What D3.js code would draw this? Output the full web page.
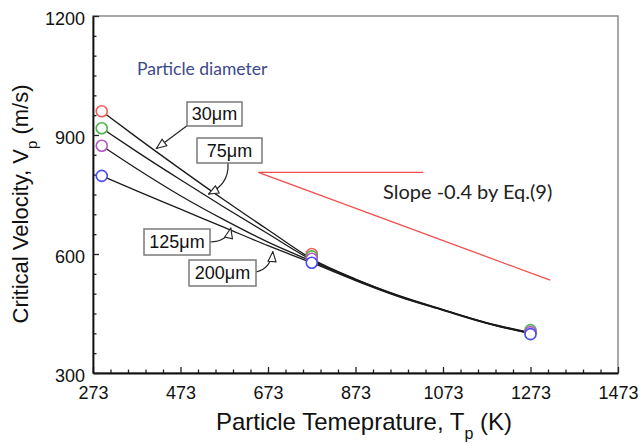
<!DOCTYPE html>
<html>
<head>
<meta charset="utf-8">
<script src="https://cdn.jsdelivr.net/npm/d3@7"></script>
<style>
  body { margin: 0; background: #fff; }
  svg { display: block; }
  .axis text { font-family: "Liberation Sans", Arial, sans-serif; font-size: 18px; fill: #111; }
  .axis .domain { stroke: #111; stroke-width: 1.8; }
  .axis line { stroke: #222; stroke-width: 1.3; }
</style>
</head>
<body>
<script>
// chart data
var temps = [293, 373, 473, 573, 673, 773, 873, 973, 1073, 1173, 1273];
var v30  = [960, 894, 814, 736, 661, 588, 537, 495, 460, 427, 402];
var v75  = [917, 858, 787, 718, 651, 585, 536, 494, 459, 426, 401];
var v125 = [873, 815, 747, 686, 630, 582, 535, 493, 459, 426, 400];
var v200 = [797, 759, 713, 667, 621, 578, 533, 492, 458, 425, 399];

var markerTemps = [293, 773, 1273];
var m30  = [960, 600, 402];
var m75  = [917, 594, 408];
var m125 = [873, 588, 403];
var m200 = [797, 578, 398];

var sizeLabels = ["30\u03bcm", "75\u03bcm", "125\u03bcm", "200\u03bcm"];
var markerColors = ["#f0605c", "#4fb34f", "#b257c4", "#4a4af0"];

// reference line "Slope -0.4 by Eq.(9)"
var slopeStart = [651, 806];
var slopeEnd = [1318, 534];
var slopeFlatEnd = [1028, 806];

var xTicks = [273, 473, 673, 873, 1073, 1273, 1473];
var yTicks = [300, 600, 900, 1200];

// Step 0: chart parameters
var svgWidth = 643;
var svgHeight = 445;
var margin = {top: 16, right: 25, bottom: 72, left: 93};
var width = svgWidth - margin.left - margin.right;
var height = svgHeight - margin.top - margin.bottom;

var svg = d3.select("body").append("svg")
  .attr("width", svgWidth)
  .attr("height", svgHeight);

var defs = svg.append("defs");
defs.append("marker")
  .attr("id", "openArrow")
  .attr("viewBox", "0 0 12 10")
  .attr("refX", 11)
  .attr("refY", 5)
  .attr("markerWidth", 12)
  .attr("markerHeight", 10)
  .attr("markerUnits", "userSpaceOnUse")
  .attr("orient", "auto")
  .append("path")
  .attr("d", "M1,1 L11,5 L1,9 Z")
  .attr("fill", "#fff")
  .attr("stroke", "#222")
  .attr("stroke-width", 1.1);

var chartGroup = svg.append("g")
  .attr("transform", `translate(${margin.left}, ${margin.top})`);

// scales
var xScale = d3.scaleLinear().domain([273, 1473]).range([0, width]);
var yScale = d3.scaleLinear().domain([300, 1200]).range([height, 0]);

// frame (top and right are grey)
chartGroup.append("rect")
  .attr("width", width)
  .attr("height", height)
  .attr("fill", "none")
  .attr("stroke", "#8a8a8a")
  .attr("stroke-width", 1.5);

// minor ticks
var xMinor = d3.range(273, 1474, 40).filter(d => xTicks.indexOf(d) < 0);
var yMinor = d3.range(300, 1201, 50).filter(d => yTicks.indexOf(d) < 0);

chartGroup.append("g")
  .attr("class", "axis")
  .attr("transform", `translate(0, ${height})`)
  .call(d3.axisBottom(xScale).tickValues(xMinor).tickSize(-3.5).tickSizeOuter(0).tickFormat(""))
  .select(".domain").remove();

chartGroup.append("g")
  .attr("class", "axis")
  .call(d3.axisLeft(yScale).tickValues(yMinor).tickSize(-3.5).tickSizeOuter(0).tickFormat(""))
  .select(".domain").remove();

// major axes
chartGroup.append("g")
  .attr("class", "axis")
  .attr("transform", `translate(0, ${height})`)
  .call(d3.axisBottom(xScale).tickValues(xTicks).tickSize(-6).tickSizeOuter(0).tickPadding(13).tickFormat(d3.format("d")));

chartGroup.append("g")
  .attr("class", "axis")
  .call(d3.axisLeft(yScale).tickValues(yTicks).tickSize(-6).tickSizeOuter(0).tickPadding(8).tickFormat(d3.format("d")))
  .selectAll("text").attr("dy", "0.45em");

// axis titles
var xTitle = svg.append("text")
  .attr("x", 364)
  .attr("y", 430)
  .attr("text-anchor", "middle")
  .style("font-family", "'Liberation Sans', Arial, sans-serif")
  .style("font-size", "24px")
  .attr("fill", "#111");
xTitle.append("tspan").text("Particle Temeprature, T");
xTitle.append("tspan").attr("baseline-shift", "sub").style("font-size", "16px").text("p");
xTitle.append("tspan").text(" (K)");

var yTitle = svg.append("text")
  .attr("transform", "translate(28, 204) rotate(-90)")
  .attr("text-anchor", "middle")
  .style("font-family", "'Liberation Sans', Arial, sans-serif")
  .style("font-size", "22px")
  .attr("fill", "#111");
yTitle.append("tspan").text("Critical Velocity, V");
yTitle.append("tspan").attr("baseline-shift", "sub").style("font-size", "15px").text("p");
yTitle.append("tspan").text(" (m/s)");

// slope reference lines
var plainLine = d3.line()
  .x(d => xScale(d[0]))
  .y(d => yScale(d[1]));

chartGroup.append("path")
  .attr("d", plainLine([slopeStart, slopeFlatEnd]))
  .attr("fill", "none")
  .attr("stroke", "#f24d4d")
  .attr("stroke-width", 1.3);

chartGroup.append("path")
  .attr("d", plainLine([slopeStart, slopeEnd]))
  .attr("fill", "none")
  .attr("stroke", "#f24d4d")
  .attr("stroke-width", 1.3);

chartGroup.append("text")
  .attr("x", 290)
  .attr("y", 183)
  .style("font-family", "Lato, 'Open Sans', sans-serif")
  .style("font-size", "20px")
  .attr("fill", "#222")
  .text("Slope -0.4 by Eq.(9)");

chartGroup.append("text")
  .attr("x", 44)
  .attr("y", 59)
  .style("font-family", "Lato, 'Open Sans', sans-serif")
  .style("font-size", "17.5px")
  .attr("fill", "#3b4a8c")
  .text("Particle diameter");

// curves
var seriesVals = [v30, v75, v125, v200];
var markerVals = [m30, m75, m125, m200];

var curve = d3.line()
  .x(d => xScale(d.t))
  .y(d => yScale(d.v))
  .curve(d3.curveMonotoneX);

seriesVals.forEach(function(vals) {
  var pts = temps.map((t, i) => ({t: t, v: vals[i]}));
  chartGroup.append("path")
    .attr("d", curve(pts))
    .attr("fill", "none")
    .attr("stroke", "#1a1a1a")
    .attr("stroke-width", 1.3);
});

// hollow markers
markerVals.forEach(function(vals, k) {
  chartGroup.selectAll(null)
    .data(markerTemps.map((t, i) => ({t: t, v: vals[i]})))
    .enter().append("circle")
    .attr("cx", d => xScale(d.t))
    .attr("cy", d => yScale(d.v))
    .attr("r", 5.5)
    .attr("fill", "#fff")
    .attr("stroke", markerColors[k])
    .attr("stroke-width", 1.6);
});

// boxed size labels with arrows pointing at the curves
var boxes = [
  {x: 94, y: 86, w: 55, h: 24, tipT: 418, tipV: 866, path: (tx, ty) => `M95,109 L${tx},${ty}`},
  {x: 104, y: 122, w: 65, h: 25, tipT: 537, tipV: 751, path: (tx, ty) => `M135,147 C136,164 127,172 ${tx},${ty}`},
  {x: 51, y: 213, w: 66, h: 26, tipT: 588, tipV: 665, path: (tx, ty) => `M117,226 C129,226 136,220 ${tx},${ty}`},
  {x: 96, y: 244, w: 67, h: 26, tipT: 684, tipV: 606, path: (tx, ty) => `M163,256 C173,254 179,246 ${tx},${ty}`}
];

boxes.forEach(function(b, i) {
  var tx = xScale(b.tipT);
  var ty = yScale(b.tipV);
  chartGroup.append("path")
    .attr("d", b.path(tx, ty))
    .attr("fill", "none")
    .attr("stroke", "#222")
    .attr("stroke-width", 1.2)
    .attr("marker-end", "url(#openArrow)");

  chartGroup.append("rect")
    .attr("x", b.x)
    .attr("y", b.y)
    .attr("width", b.w)
    .attr("height", b.h)
    .attr("fill", "#fff")
    .attr("stroke", "#7a7a7a")
    .attr("stroke-width", 1.5);

  chartGroup.append("text")
    .attr("x", b.x + b.w / 2)
    .attr("y", b.y + b.h / 2 + 6)
    .attr("text-anchor", "middle")
    .style("font-family", "'Liberation Sans', Arial, sans-serif")
    .style("font-size", "18px")
    .attr("fill", "#111")
    .text(sizeLabels[i]);
});
</script>
</body>
</html>
